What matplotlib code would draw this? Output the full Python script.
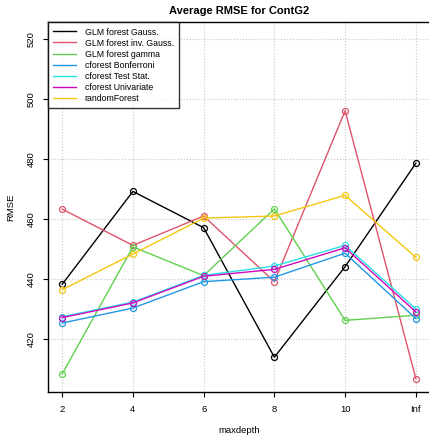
import numpy as np
import matplotlib
matplotlib.use("Agg")
import matplotlib.pyplot as plt

plt.rcParams['font.family'] = ['Liberation Sans', 'DejaVu Sans']

depths = ["2", "4", "6", "8", "10", "Inf"]

glm_gauss = [438.3, 469.3, 457.2, 414.0, 444.2, 478.7]
glm_inv_gauss = [463.4, 451.3, 461.1, 439.2, 496.2, 406.9]
glm_gamma = [408.4, 450.8, 441.2, 463.5, 426.3, 428.0]
cf_bonferroni = [425.4, 430.4, 439.2, 440.7, 448.7, 426.9]
cf_teststat = [427.5, 432.4, 441.3, 444.4, 451.3, 430.1]
cf_univariate = [427.2, 432.1, 441.0, 443.3, 450.5, 429.1]
random_forest = [436.5, 448.4, 460.4, 461.1, 468.0, 447.3]

series = [
    ("GLM forest Gauss.", glm_gauss, "black"),
    ("GLM forest inv. Gauss.", glm_inv_gauss, "#DF536B"),
    ("GLM forest gamma", glm_gamma, "#61D04F"),
    ("cforest Bonferroni", cf_bonferroni, "#2297E6"),
    ("cforest Test Stat.", cf_teststat, "#28E2E5"),
    ("cforest Univariate", cf_univariate, "#CD0BBC"),
    ("randomForest", random_forest, "#F5C710"),
]

fig = plt.figure(figsize=(4.29, 4.36), dpi=100)
ax = fig.add_axes([48 / 429, 1 - 392.3 / 436, 382 / 429, 370 / 436])

x = np.arange(1, len(depths) + 1)
for name, vals, col in series:
    ax.plot(x, vals, color=col, lw=1.0, marker="o", ms=4.3,
            mfc="none", mec=col, mew=0.9, label=name)

ax.set_xlim(0.8, 6.2)
ax.set_ylim(402.3, 525.7)
ax.set_xticks(x)
ax.set_xticklabels(depths)
ax.set_yticks(np.arange(420, 521, 20))
for lab in ax.get_yticklabels():
    lab.set_rotation(90)
    lab.set_va("center")
ax.tick_params(labelsize=6.8, length=3.6, width=0.8, pad=5.5, color="black")
ax.grid(True, color="#c8c8c8", linestyle=":", linewidth=0.8)
ax.set_axisbelow(True)
for s in ax.spines.values():
    s.set_linewidth(1.0)
    s.set_color("black")

ax.set_xlabel("maxdepth", fontsize=6.8, labelpad=9)
ax.set_ylabel("RMSE", fontsize=6.8, labelpad=8)
ax.set_title("Average RMSE for ContG2", fontsize=8, fontweight="bold", pad=6)

leg = ax.legend(loc="upper left", bbox_to_anchor=(0, 1), borderaxespad=0,
                fontsize=6.3, frameon=True, fancybox=False, handlelength=2.6,
                handletextpad=1.0, labelspacing=0.23, borderpad=0.6)
leg.get_frame().set_edgecolor("black")
leg.get_frame().set_linewidth(1.0)
for h in leg.legend_handles:
    h.set_marker("")

fig.savefig("out.png", dpi=100)
